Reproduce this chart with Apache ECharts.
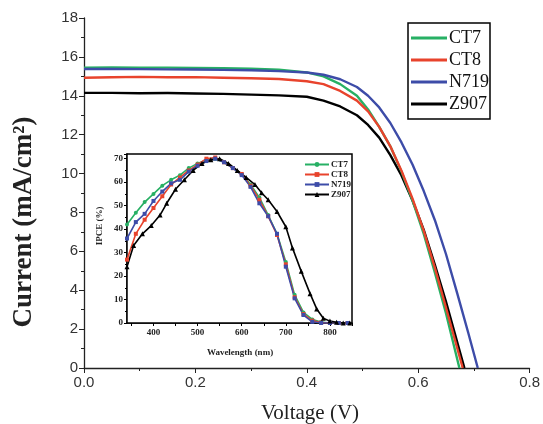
<!DOCTYPE html>
<html><head><meta charset="utf-8">
<script src="https://cdn.jsdelivr.net/npm/echarts@6/dist/echarts.min.js"></script>
<style>html,body{margin:0;padding:0;background:#fff}#c{width:543px;height:424px}</style>
</head><body><div id="c"></div>
<script>
// ---- Main J-V data ----
const seriesNames = ['CT7', 'CT8', 'N719', 'Z907'];
const jvV_CT7 = [0, 0.05, 0.1, 0.15, 0.2, 0.25, 0.3, 0.35, 0.4, 0.43, 0.46, 0.49, 0.51, 0.53, 0.55, 0.57, 0.59, 0.61, 0.63, 0.65, 0.674];
const jvJ_CT7 = [15.45, 15.46, 15.44, 15.45, 15.43, 15.42, 15.39, 15.34, 15.2, 15.0, 14.6, 14.0, 13.3, 12.4, 11.4, 10.1, 8.6, 6.9, 4.9, 2.8, 0];
const jvV_CT8 = [0, 0.05, 0.1, 0.15, 0.2, 0.25, 0.3, 0.35, 0.4, 0.43, 0.46, 0.49, 0.51, 0.53, 0.55, 0.57, 0.59, 0.61, 0.63, 0.65, 0.68];
const jvJ_CT8 = [14.93, 14.95, 14.97, 14.95, 14.96, 14.93, 14.9, 14.86, 14.75, 14.6, 14.25, 13.75, 13.2, 12.4, 11.4, 10.15, 8.7, 7.05, 5.15, 3.1, 0];
const jvV_N719 = [0, 0.05, 0.1, 0.15, 0.2, 0.25, 0.3, 0.35, 0.4, 0.43, 0.46, 0.49, 0.51, 0.53, 0.55, 0.57, 0.59, 0.61, 0.63, 0.65, 0.67, 0.69, 0.707];
const jvJ_N719 = [15.38, 15.38, 15.37, 15.36, 15.35, 15.33, 15.31, 15.27, 15.2, 15.08, 14.85, 14.45, 14.0, 13.4, 12.6, 11.6, 10.45, 9.1, 7.6, 5.85, 3.85, 1.8, 0];
const jvV_Z907 = [0, 0.05, 0.1, 0.15, 0.2, 0.25, 0.3, 0.35, 0.4, 0.43, 0.46, 0.49, 0.51, 0.53, 0.55, 0.57, 0.59, 0.61, 0.63, 0.65, 0.683];
const jvJ_Z907 = [14.15, 14.15, 14.13, 14.14, 14.12, 14.1, 14.06, 14.02, 13.95, 13.75, 13.45, 13.0, 12.5, 11.85, 10.95, 9.9, 8.6, 7.1, 5.3, 3.4, 0];

// ---- Inset IPCE data ----
const wl_CT7 = [340, 360, 380, 400, 420, 440, 460, 480, 500, 520, 540, 560, 580, 600, 620, 640, 660, 680, 700, 720, 740, 760, 780, 800, 820, 840];
const ipce_CT7 = [42, 47, 51.5, 55, 58.5, 61, 63, 66, 68, 69.5, 70, 68.5, 66, 63.5, 59, 53.5, 46, 38, 26, 12, 4.5, 1.5, 0.4, 0, 0, 0];
const wl_CT8 = [340, 360, 380, 400, 420, 440, 460, 480, 500, 520, 540, 560, 580, 600, 620, 640, 660, 680, 700, 720, 740, 760, 780, 800, 820, 840];
const ipce_CT8 = [27, 38, 44, 49, 54, 59, 62, 65, 67.5, 70, 70.5, 68.5, 66, 63.5, 58.5, 52.5, 45.5, 37.5, 25, 11, 3.8, 1, 0.2, 0, 0, 0];
const wl_N719 = [340, 360, 380, 400, 420, 440, 460, 480, 500, 520, 540, 560, 580, 600, 620, 640, 660, 680, 700, 720, 740, 760, 780, 800, 820, 840];
const ipce_N719 = [36, 43, 46.5, 52, 56, 59.5, 61, 64.5, 67, 69, 70, 68.5, 66, 63, 58, 51, 45.5, 38, 24, 10.5, 3.4, 0.5, 0, 0, 0, 0];
const wl_Z907 = [340, 355, 375, 395, 415, 430, 450, 470, 490, 510, 530, 550, 570, 590, 610, 630, 645, 660, 680, 700, 715, 735, 755, 770, 785, 800, 815, 830, 845];
const ipce_Z907 = [24, 33, 38, 41.5, 46, 51, 57, 61, 65, 68, 69.5, 70, 68, 65, 62, 59, 55.5, 52.5, 47.5, 41, 32, 22, 12.5, 6, 2, 0.8, 0.3, 0, 0];

// ---- Axis ticks ----
const mainXTicks = [0, 0.2, 0.4, 0.6, 0.8];
const mainYTicks = [0, 2, 4, 6, 8, 10, 12, 14, 16, 18];
const insetXLabels = [400, 500, 600, 700, 800];
const insetXTicks = [350, 400, 450, 500, 550, 600, 650, 700, 750, 800, 850];
const insetYTicks = [0, 10, 20, 30, 40, 50, 60, 70];

const colors = ['#27b064', '#e8432c', '#3d4ca8', '#000000'];
const symbols = ['circle', 'rect', 'rect', 'triangle'];

const zip = (a, b) => a.map((v, i) => [v, b[i]]);
const jvData = [zip(jvV_CT7, jvJ_CT7), zip(jvV_CT8, jvJ_CT8), zip(jvV_N719, jvJ_N719), zip(jvV_Z907, jvJ_Z907)];
const ipceData = [zip(wl_CT7, ipce_CT7), zip(wl_CT8, ipce_CT8), zip(wl_N719, ipce_N719), zip(wl_Z907, ipce_Z907)];

const serif = '"Liberation Serif", "Times New Roman", serif';
const sans = '"Liberation Sans", Arial, sans-serif';

const series = [];
seriesNames.forEach((n, i) => {
  series.push({
    name: n, type: 'line', xAxisIndex: 0, yAxisIndex: 0, data: jvData[i],
    showSymbol: false, smooth: false, lineStyle: { color: colors[i], width: 2.4, join: 'round' }, itemStyle: { color: colors[i] }, z: 2 + (i === 3 ? 0 : 1)
  });
});
seriesNames.forEach((n, i) => {
  series.push({
    name: n + ' ipce', type: 'line', xAxisIndex: 1, yAxisIndex: 1, data: ipceData[i],
    symbol: symbols[i], symbolSize: i === 3 ? 5 : 4, showSymbol: true,
    lineStyle: { color: colors[i], width: 1.6 }, itemStyle: { color: colors[i] }, z: 10
  });
});

const chart = echarts.init(document.getElementById('c'), null, { renderer: 'canvas' });
chart.setOption({
  animation: false,
  backgroundColor: '#fff',
  textStyle: { fontFamily: serif },
  grid: [
    { left: 84, top: 18, width: 452, height: 350, containLabel: false },
    { left: 127, top: 154, width: 225, height: 169, show: true, backgroundColor: '#fff', borderColor: '#000', borderWidth: 1.5, z: 5 }
  ],
  xAxis: [
    { type: 'value', gridIndex: 0, min: 0, max: 0.8, interval: 0.2,
      axisLine: { lineStyle: { color: '#222', width: 1.3 } },
      axisTick: { show: true, length: 5, lineStyle: { color: '#222' } },
      minorTick: { show: true, splitNumber: 2, length: 3, lineStyle: { color: '#222' } },
      splitLine: { show: false },
      axisLabel: { fontFamily: sans, fontSize: 15, color: '#333', margin: 7, formatter: v => v.toFixed(1) } },
    { type: 'value', gridIndex: 1, min: 340, max: 850,
      axisLine: { onZero: false, lineStyle: { color: '#000', width: 1.5 } },
      axisTick: { show: true, length: 3, customValues: insetXTicks, lineStyle: { color: '#000' } },
      splitLine: { show: false },
      axisLabel: { customValues: insetXLabels, fontFamily: serif, fontWeight: 'bold', fontSize: 9, color: '#222', margin: 5 } }
  ],
  yAxis: [
    { type: 'value', gridIndex: 0, min: 0, max: 18, interval: 2,
      axisLine: { show: true, lineStyle: { color: '#222', width: 1.3 } },
      axisTick: { show: true, length: 5, lineStyle: { color: '#222' } },
      minorTick: { show: true, splitNumber: 2, length: 3, lineStyle: { color: '#222' } },
      splitLine: { show: false },
      axisLabel: { fontFamily: sans, fontSize: 15, color: '#333', margin: 6 } },
    { type: 'value', gridIndex: 1, min: 0, max: 72, interval: 10,
      axisLine: { show: true, onZero: false, lineStyle: { color: '#000', width: 1.5 } },
      axisTick: { show: true, length: 3, lineStyle: { color: '#000' } },
      minorTick: { show: true, splitNumber: 2, length: 2, lineStyle: { color: '#000' } },
      splitLine: { show: false },
      axisLabel: { showMaxLabel: false, fontFamily: serif, fontWeight: 'bold', fontSize: 9, color: '#222', margin: 4 } }
  ],
  legend: [
    { data: seriesNames, orient: 'vertical', left: 408, top: 23, icon: 'rect', itemWidth: 36, itemHeight: 3, itemGap: 4,
      padding: [6, 1, 6, 3], borderColor: '#000', borderWidth: 1.5, backgroundColor: '#fff',
      formatter: n => '{s|' + n + '}',
      textStyle: { fontFamily: serif, fontSize: 18, color: '#111', lineHeight: 17,
        rich: { s: { fontFamily: serif, fontSize: 18, color: '#111', lineHeight: 17, padding: [0, 0, 0, -3] } } },
      selectedMode: false },
    { data: seriesNames.map(n => n + ' ipce'), orient: 'vertical', left: 304, top: 160, itemWidth: 24, itemHeight: 6, itemGap: 1,
      formatter: n => '{s|' + n.split(' ')[0] + '}', padding: 0,
      textStyle: { fontFamily: serif, fontWeight: 'bold', fontSize: 9, color: '#222', lineHeight: 9,
        rich: { s: { fontFamily: serif, fontWeight: 'bold', fontSize: 9, color: '#222', lineHeight: 9, padding: [0, 0, 0, -3] } } },
      selectedMode: false, z: 20 }
  ],
  graphic: [
    { type: 'text', x: 24, y: 222, rotation: Math.PI / 2, z: 100,
      style: { text: 'Current (mA/cm²)', font: 'bold 27px ' + serif, fill: '#222', textAlign: 'center', textVerticalAlign: 'middle' } },
    { type: 'text', x: 310, y: 413, z: 100,
      style: { text: 'Voltage (V)', font: '21px ' + serif, fill: '#222', textAlign: 'center', textVerticalAlign: 'middle' } },
    { type: 'text', x: 100, y: 226, rotation: Math.PI / 2, z: 100,
      style: { text: 'IPCE (%)', font: 'bold 9px ' + serif, fill: '#222', textAlign: 'center', textVerticalAlign: 'middle' } },
    { type: 'text', x: 240, y: 353, z: 100,
      style: { text: 'Wavelength (nm)', font: 'bold 9px ' + serif, fill: '#222', textAlign: 'center', textVerticalAlign: 'middle' } }
  ],
  series: series
});
</script></body></html>
